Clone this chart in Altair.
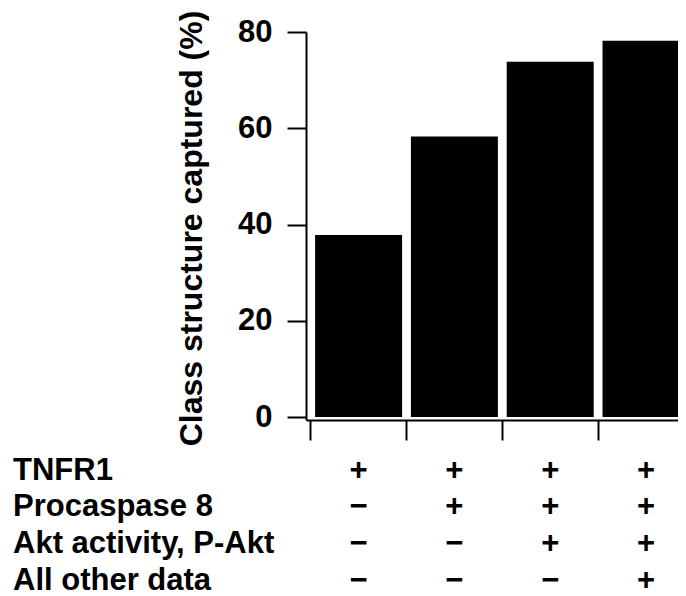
import altair as alt
import pandas as pd

# ---- data ----
combos = ["TNFR1", "+ Procaspase 8", "+ Akt", "+ All other"]
captured = [37.8, 58.3, 73.8, 78.2]
row_labels = ["TNFR1", "Procaspase 8", "Akt activity, P-Akt", "All other data"]
signs = [
    ["+", "+", "+", "+"],
    ["\u2212", "+", "+", "+"],
    ["\u2212", "\u2212", "+", "+"],
    ["\u2212", "\u2212", "\u2212", "+"],
]
y_ticks = [0, 20, 40, 60, 80]
y_title = "Class structure captured (%)"

FONT = "Liberation Sans"
FS = 31

bars_df = pd.DataFrame({"combo": combos, "captured": captured})
labels_df = pd.DataFrame({"row": row_labels})
sign_rows = []
for r, lab in enumerate(row_labels):
    for c, cb in enumerate(combos):
        sign_rows.append({"row": lab, "combo": cb, "sign": signs[r][c]})
signs_df = pd.DataFrame(sign_rows)

x_scale = alt.Scale(domain=combos, range=[0, 392.6], paddingInner=0, paddingOuter=0.049)
row_scale = alt.Scale(type="point", domain=row_labels, range=[447.5, 557.5], padding=0)

bars = alt.Chart(bars_df).mark_bar(
    color="black", clip=True, width=alt.RelativeBandSize(0.908)
).encode(
    x=alt.X("combo:N", scale=x_scale, sort=combos,
            axis=alt.Axis(labels=False, title=None, bandPosition=0, tickSize=20,
                          tickWidth=2, tickColor="black", domainWidth=2,
                          domainColor="black", grid=False)),
    y=alt.Y("captured:Q", scale=alt.Scale(domain=[-0.62, 80], nice=False, zero=False),
            axis=alt.Axis(values=y_ticks, tickSize=19, tickWidth=2, tickColor="black",
                          domainWidth=2, domainColor="black", grid=False,
                          labelFont=FONT, labelFontSize=FS, labelFontWeight="bold",
                          labelColor="black", labelPadding=15,
                          title=y_title, titleFont=FONT, titleFontSize=32,
                          titleFontWeight="bold", titleColor="black",
                          titleAngle=270, titleAlign="center",
                          titleBaseline="alphabetic", titleX=-105, titleY=196)),
    y2=alt.datum(0),
)

labels = alt.Chart(labels_df).mark_text(
    font=FONT, fontSize=FS, fontWeight="bold", color="black",
    align="left", baseline="alphabetic"
).encode(
    x=alt.value(-293),
    y=alt.Y("row:N", scale=row_scale, axis=None, sort=row_labels),
    text="row:N",
)

sign_marks = alt.Chart(signs_df).mark_text(
    font=FONT, fontSize=FS, fontWeight="bold", color="black",
    align="center", baseline="alphabetic"
).encode(
    x=alt.X("combo:N", scale=x_scale, sort=combos),
    y=alt.Y("row:N", scale=row_scale, axis=None, sort=row_labels),
    text="sign:N",
)

chart = alt.layer(bars, labels, sign_marks).resolve_scale(
    y="independent"
).properties(
    width=372,
    height=388,
    autosize=alt.AutoSizeParams(type="none"),
    padding={"left": 298, "top": 24, "right": 0, "bottom": 176},
).configure_view(stroke=None)

chart.save("out.html", embed_options={"renderer": "svg", "actions": False})
